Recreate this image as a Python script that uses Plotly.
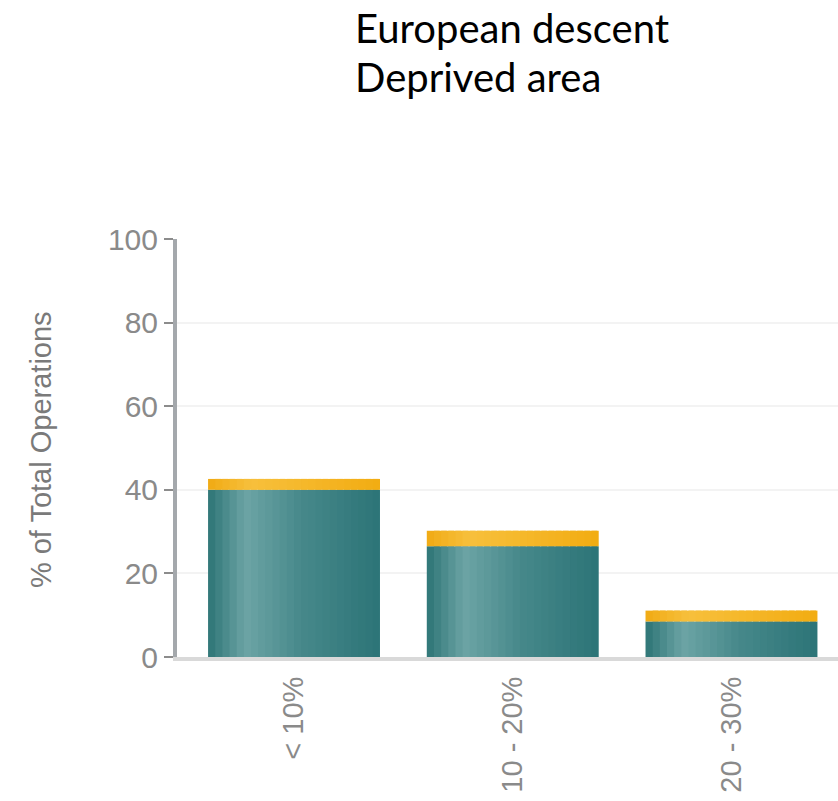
import plotly.graph_objects as go

categories = ["< 10%", "10 - 20%", "20 - 30%"]
teal_values = [40.0, 26.5, 8.5]
orange_values = [2.6, 3.7, 2.6]
y_ticks = [0, 20, 40, 60, 80, 100]

fig = go.Figure()

BAR_W = 0.786
N = 24


def blend(stops, t):
    for (t0, c0), (t1, c1) in zip(stops[:-1], stops[1:]):
        if t0 <= t <= t1:
            f = (t - t0) / (t1 - t0)
            c = [round(a + (b - a) * f) for a, b in zip(c0, c1)]
            return "rgb(%d,%d,%d)" % tuple(c)
    return "rgb(%d,%d,%d)" % stops[-1][1]


TEAL_STOPS = [(0.0, (45, 116, 118)), (0.22, (108, 164, 165)), (0.55, (70, 136, 138)), (1.0, (44, 116, 119))]
ORANGE_STOPS = [(0.0, (240, 170, 20)), (0.25, (247, 192, 60)), (1.0, (242, 172, 18))]

sw = BAR_W / N
for i in range(N):
    t = (i + 0.5) / N
    w = sw if i == N - 1 else sw * 1.8
    fig.add_trace(go.Bar(
        x=categories, y=teal_values,
        offset=-BAR_W / 2 + i * sw, width=w,
        marker=dict(color=blend(TEAL_STOPS, t), line=dict(width=0)),
        showlegend=False, hoverinfo="skip",
    ))
    fig.add_trace(go.Bar(
        x=categories, y=orange_values, base=teal_values,
        offset=-BAR_W / 2 + i * sw, width=w,
        marker=dict(color=blend(ORANGE_STOPS, t), line=dict(width=0)),
        showlegend=False, hoverinfo="skip",
    ))

fig.update_layout(
    width=838, height=801,
    margin=dict(l=177, r=0, t=239, b=144),
    paper_bgcolor="white", plot_bgcolor="white",
    barmode="overlay",
    font=dict(family="Liberation Sans, Arial, sans-serif", color="#8a8a8a"),
    xaxis=dict(
        type="category", range=[-0.535, 2.487],
        showline=True, linecolor="#d9d9d9", linewidth=4,
        showgrid=False, zeroline=False,
        tickangle=-90, tickfont=dict(size=29, color="#8a8a8a"),
        ticks="", ticklabelstandoff=4, automargin=False,
    ),
    yaxis=dict(
        range=[0, 100], tickvals=y_ticks,
        showline=True, linecolor="#a4a8ac", linewidth=4,
        showgrid=True, gridcolor="#f3f3f3", gridwidth=2,
        zeroline=False,
        ticks="outside", ticklen=9, tickwidth=2, tickcolor="#8c8c8c",
        tickfont=dict(size=30, color="#8a8a8a"),
        automargin=False,
    ),
    annotations=[
        dict(text="% of Total Operations", textangle=-90, showarrow=False,
             xref="paper", yref="paper", x=-0.2057, y=0.495,
             xanchor="center", yanchor="middle",
             font=dict(size=29, color="#7a7a7a", family="Liberation Sans, Arial, sans-serif")),
        dict(text="European descent", showarrow=False,
             xref="paper", yref="paper", x=0.266, y=1.505,
             xanchor="left", yanchor="middle",
             font=dict(size=40, color="black", family="Lato, sans-serif")),
        dict(text="Deprived area", showarrow=False,
             xref="paper", yref="paper", x=0.266, y=1.387,
             xanchor="left", yanchor="middle",
             font=dict(size=40, color="black", family="Lato, sans-serif")),
    ],
)

fig.write_html("out.html")
